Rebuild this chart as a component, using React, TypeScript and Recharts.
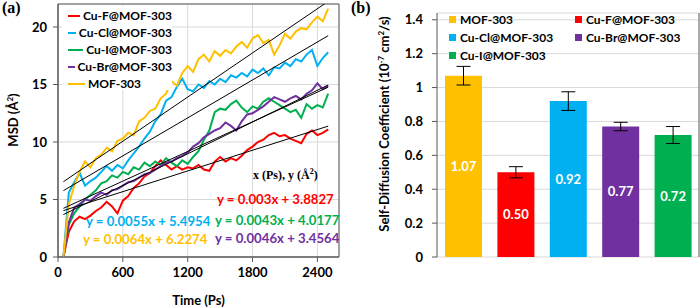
import React from 'react';
import {
  LineChart,
  Line,
  BarChart,
  Bar,
  Cell,
  ErrorBar,
  LabelList,
  XAxis,
  YAxis,
  CartesianGrid,
  Legend,
  ReferenceArea
} from 'recharts';

const FONT = 'Lato, "Open Sans", Arial, sans-serif';
const SERIF = '"Liberation Serif", "DejaVu Serif", serif';
const AXIS = '#595959';
const GRID = '#d9d9d9';

// simulation time (ps), one sample every 50 ps
const timePs = [
  50, 100, 150, 200, 250, 300, 350, 400, 450, 500,
  550, 600, 650, 700, 750, 800, 850, 900, 950, 1000,
  1050, 1100, 1150, 1200, 1250, 1300, 1350, 1400, 1450, 1500,
  1550, 1600, 1650, 1700, 1750, 1800, 1850, 1900, 1950, 2000,
  2050, 2100, 2150, 2200, 2250, 2300, 2350, 2400, 2450, 2500
];

// mean square displacement (A^2)
const msdCuF = [
  0, 2.2, 3.1, 3.5, 3.3, 3.6, 4.0, 4.3, 4.8, 4.4,
  3.8, 4.9, 5.3, 6.0, 6.4, 7.0, 7.3, 7.9, 8.4, 8.0,
  7.6, 7.9, 7.6, 7.8, 7.7, 8.0, 7.6, 7.5, 8.3, 8.7,
  8.3, 8.6, 8.4, 8.8, 9.3, 9.6, 10.0, 10.2, 10.6, 10.8,
  10.5, 10.6, 10.3, 10.1, 9.9, 10.7, 11.0, 10.6, 10.8, 11.1
];
const msdCuCl = [
  0, 5.6, 6.5, 7.3, 6.2, 6.6, 6.9, 7.4, 7.9, 7.5,
  8.0, 7.7, 8.4, 9.0, 9.6, 10.3, 10.9, 11.8, 12.4, 13.6,
  13.9, 14.8, 15.5, 14.6, 14.4, 15.0, 14.7, 15.3, 15.0, 15.5,
  15.2, 15.8, 15.6, 16.0, 15.7, 16.3, 16.0, 16.4, 15.8, 16.5,
  16.4, 16.9, 16.6, 17.2, 17.0, 17.6, 18.0, 16.6, 17.3, 17.8
];
const msdCuI = [
  0, 2.8, 3.8, 4.4, 5.0, 5.4, 5.8, 6.4, 6.6, 7.1,
  6.9, 7.4, 7.2, 7.8, 7.6, 8.2, 7.9, 8.3, 8.0, 8.6,
  8.2, 7.9, 8.4, 8.1, 8.7, 9.2, 10.2, 11.0, 12.6, 12.9,
  12.8, 13.3, 13.6, 13.0, 12.6, 13.1, 12.9, 13.5, 13.8, 13.5,
  13.2, 12.9, 12.6, 12.8, 12.1, 13.3, 12.9, 13.2, 13.0, 14.2
];
const msdCuBr = [
  0, 3.0, 4.3, 4.6, 5.0, 4.9, 5.3, 5.6, 5.4, 5.8,
  5.9, 6.2, 6.5, 6.6, 6.9, 7.2, 7.3, 7.6, 7.9, 8.2,
  8.3, 8.6, 8.8, 9.1, 9.6, 9.9, 10.4, 10.7, 11.0, 11.2,
  11.7, 11.4, 11.0, 11.8, 12.4, 12.5, 12.8, 13.1, 13.5, 13.9,
  13.7, 13.5, 13.8, 14.0, 13.7, 14.2, 14.5, 15.1, 14.6, 14.9
];
const msdMof = [
  0, 4.6, 6.2, 7.4, 8.3, 7.8, 8.6, 8.9, 9.5, 9.2,
  10.1, 10.3, 10.8, 10.6, 11.8, 12.1, 12.7, 12.9, 13.8, 14.2,
  15.3, 14.9, 16.0, 16.6, 16.1, 17.2, 17.6, 17.0, 17.9, 17.5,
  18.0, 17.7, 18.3, 18.7, 18.2, 19.0, 19.3, 18.6, 18.9, 17.6,
  18.4, 19.4, 19.0, 19.6, 19.9, 19.8, 20.4, 20.9, 20.5, 21.6
];

const seriesNames = ['Cu-F@MOF-303', 'Cu-Cl@MOF-303', 'Cu-I@MOF-303', 'Cu-Br@MOF-303', 'MOF-303'];
const seriesKeys = ['cuF', 'cuCl', 'cuI', 'cuBr', 'mof'];
const seriesValues = [msdCuF, msdCuCl, msdCuI, msdCuBr, msdMof];
const seriesColors = ['#FF0000', '#00B0F0', '#00B050', '#7030A0', '#FFC000'];

// linear fits y = a*x + b, same order as the series
const fitSlopes = [0.003, 0.0055, 0.0043, 0.0046, 0.0064];
const fitIntercepts = [3.8827, 5.4954, 4.0177, 3.4564, 6.2274];
const fitStart = 50;
const fitEnd = 2500;

const msdTicksX = [0, 600, 1200, 1800, 2400];
const msdTicksY = [0, 5, 10, 15, 20];
const msdMinorX = Array.from({ length: 22 }, (_, i) => i * 120);
const msdMinorY = Array.from({ length: 23 }, (_, i) => i);

// where the fit equations sit on the left panel
const equationSpots = [
  { left: 217, top: 191 },
  { left: 86, top: 213 },
  { left: 215, top: 212 },
  { left: 215, top: 230 },
  { left: 83, top: 231 }
];

// self-diffusion coefficients (10^-7 cm^2/s)
const diffNames = ['MOF-303', 'Cu-F@MOF-303', 'Cu-Cl@MOF-303', 'Cu-Br@MOF-303', 'Cu-I@MOF-303'];
const diffValues = [1.07, 0.5, 0.92, 0.77, 0.72];
const diffErrors = [0.055, 0.033, 0.055, 0.025, 0.05];
const diffColors = ['#FFC000', '#FF0000', '#00B0F0', '#7030A0', '#00B050'];
const diffTicks = [0, 0.2, 0.4, 0.6, 0.8, 1, 1.2, 1.4];
const diffMinor = Array.from({ length: 37 }, (_, i) => Number((i * 0.04).toFixed(2)));

const msdData = timePs.map((t, i) => {
  const row: Record<string, number> = { t };
  seriesKeys.forEach((k, s) => {
    row[k] = seriesValues[s][i];
    if (t === fitStart || t === fitEnd) row[k + 'Fit'] = fitSlopes[s] * t + fitIntercepts[s];
  });
  return row;
});

const diffData = diffNames.map((name, i) => ({
  name,
  value: diffValues[i],
  error: diffErrors[i]
}));

const tickFont = { fill: '#000', fontSize: 13, fontWeight: 700, fontFamily: FONT };

const MsdLegend = () => (
  <div style={{ fontFamily: FONT, fontWeight: 700, fontSize: 12, color: '#000', whiteSpace: 'nowrap' }}>
    {seriesNames.map((n, i) => (
      <div key={n} style={{ display: 'flex', alignItems: 'center', height: 17 }}>
        <span style={{ display: 'inline-block', width: 17, height: 2, background: seriesColors[i], marginRight: 3 }} />
        {n}
      </div>
    ))}
  </div>
);

const DiffLegend = () => (
  <div
    style={{
      fontFamily: FONT,
      fontWeight: 700,
      fontSize: 12,
      color: '#000',
      whiteSpace: 'nowrap',
      display: 'grid',
      gridTemplateColumns: '126px 120px',
      rowGap: 1
    }}
  >
    {diffNames.map((n, i) => (
      <div key={n} style={{ display: 'flex', alignItems: 'center', height: 17 }}>
        <span style={{ display: 'inline-block', width: 7, height: 7, background: diffColors[i], marginRight: 4 }} />
        {n}
      </div>
    ))}
  </div>
);

const App: React.FC = () => {
  return (
    <div style={{ position: 'absolute', left: 0, top: 0, width: 700, height: 308, background: '#fff' }}>
      <LineChart
        width={350}
        height={308}
        data={msdData}
        margin={{ top: 4, right: 11, bottom: 0, left: 0 }}
        style={{ position: 'absolute', left: 0, top: 0 }}
      >
        <CartesianGrid stroke={GRID} />
        <XAxis
          dataKey="t"
          type="number"
          domain={[0, 2600]}
          ticks={msdTicksX}
          allowDataOverflow
          height={51}
          tickSize={5}
          tickMargin={6}
          axisLine={{ stroke: AXIS }}
          tickLine={{ stroke: AXIS }}
          tick={tickFont}
          label={{ value: 'Time (Ps)', position: 'insideBottom', offset: 3, fill: '#000', fontSize: 13, fontWeight: 700, fontFamily: FONT }}
        />
        <XAxis
          xAxisId="minor"
          dataKey="t"
          type="number"
          domain={[0, 2600]}
          ticks={msdMinorX}
          mirror
          tick={false}
          axisLine={false}
          tickSize={3}
          tickLine={{ stroke: AXIS }}
        />
        <YAxis
          type="number"
          domain={[0, 22]}
          ticks={msdTicksY}
          allowDataOverflow
          width={58}
          tickSize={5}
          tickMargin={6}
          axisLine={{ stroke: AXIS }}
          tickLine={{ stroke: AXIS }}
          tick={tickFont}
        />
        <YAxis
          yAxisId="minor"
          type="number"
          domain={[0, 22]}
          ticks={msdMinorY}
          mirror
          tick={false}
          axisLine={false}
          tickSize={3}
          tickLine={{ stroke: AXIS }}
        />
        {seriesKeys.map((k, i) => (
          <Line
            key={k}
            dataKey={k}
            name={seriesNames[i]}
            stroke={seriesColors[i]}
            strokeWidth={2}
            strokeLinejoin="miter"
            dot={false}
            isAnimationActive={false}
          />
        ))}
        {seriesKeys.map((k) => (
          <Line
            key={k + 'Fit'}
            dataKey={k + 'Fit'}
            stroke="#000"
            strokeWidth={1}
            dot={false}
            connectNulls
            legendType="none"
            isAnimationActive={false}
          />
        ))}
        <ReferenceArea x1={0} x2={2600} y1={0} y2={22} fill="none" stroke={AXIS} strokeWidth={1} ifOverflow="visible" />
        <Legend
          layout="vertical"
          align="center"
          verticalAlign="middle"
          wrapperStyle={{ left: 62, top: 6, width: 110, height: 84, background: '#fff', padding: '1px 0 0 6px', boxSizing: 'border-box' }}
          content={() => <MsdLegend />}
        />
      </LineChart>

      <BarChart
        width={350}
        height={308}
        data={diffData}
        margin={{ top: 13, right: 1, bottom: 51, left: 0 }}
        style={{ position: 'absolute', left: 350, top: 0 }}
      >
        <CartesianGrid vertical={false} stroke={GRID} />
        <XAxis dataKey="name" height={0} tick={false} tickLine={false} axisLine={{ stroke: AXIS }} />
        <YAxis
          domain={[0, 1.44]}
          ticks={diffTicks}
          allowDataOverflow
          width={87}
          tickSize={5}
          tickMargin={9}
          tickFormatter={(v: number) => String(v)}
          axisLine={{ stroke: AXIS }}
          tickLine={{ stroke: AXIS }}
          tick={tickFont}
        />
        <YAxis
          yAxisId="minor"
          domain={[0, 1.44]}
          ticks={diffMinor}
          mirror
          tick={false}
          axisLine={false}
          tickSize={4}
          tickLine={{ stroke: AXIS }}
        />
        <YAxis
          yAxisId="edge"
          orientation="right"
          domain={[0, 1.44]}
          mirror
          tick={false}
          tickLine={false}
          axisLine={{ stroke: AXIS }}
        />
        <Bar dataKey="value" barSize={37} isAnimationActive={false}>
          {diffData.map((d, i) => (
            <Cell key={d.name} fill={diffColors[i]} />
          ))}
          <ErrorBar dataKey="error" width={7} stroke="#000" strokeWidth={1} />
          <LabelList
            dataKey="value"
            position="center"
            fill="#fff"
            fontSize={13}
            fontWeight={700}
            fontFamily={FONT}
            formatter={(v: number) => v.toFixed(2)}
          />
        </Bar>
        <Legend
          layout="vertical"
          align="center"
          verticalAlign="middle"
          wrapperStyle={{ left: 99, top: 11, width: 250, height: 56 }}
          content={() => <DiffLegend />}
        />
      </BarChart>

      {/* panel letters, fit equations and axis titles */}
      <div style={{ position: 'absolute', left: 2, top: -1, fontFamily: SERIF, fontWeight: 700, fontSize: 16 }}>(a)</div>
      <div style={{ position: 'absolute', left: 351, top: -1, fontFamily: SERIF, fontWeight: 700, fontSize: 16 }}>(b)</div>
      <div style={{ position: 'absolute', left: 253, top: 167, fontFamily: SERIF, fontWeight: 700, fontSize: 12, color: '#000' }}>
        x (Ps), y (Å<sup style={{ fontSize: 8 }}>2</sup>)
      </div>
      {fitSlopes.map((m, i) => (
        <div
          key={seriesKeys[i]}
          style={{
            position: 'absolute',
            left: equationSpots[i].left,
            top: equationSpots[i].top,
            fontFamily: FONT,
            fontWeight: 700,
            fontSize: 13.2,
            color: seriesColors[i],
            whiteSpace: 'nowrap'
          }}
        >
          {`y = ${m}x + ${fitIntercepts[i]}`}
        </div>
      ))}
      <div
        style={{
          position: 'absolute',
          left: 13,
          top: 120,
          transform: 'translate(-50%, -50%) rotate(-90deg)',
          fontFamily: FONT,
          fontWeight: 700,
          fontSize: 13,
          whiteSpace: 'nowrap'
        }}
      >
        MSD (Å<sup style={{ fontSize: 8 }}>2</sup>)
      </div>
      <div
        style={{
          position: 'absolute',
          left: 384,
          top: 124,
          transform: 'translate(-50%, -50%) rotate(-90deg)',
          fontFamily: FONT,
          fontWeight: 700,
          fontSize: 13,
          whiteSpace: 'nowrap'
        }}
      >
        Self-Diffusion Coefficient (10<sup style={{ fontSize: 8 }}>-7</sup> cm<sup style={{ fontSize: 8 }}>2</sup>/s)
      </div>
    </div>
  );
};

export default App;
